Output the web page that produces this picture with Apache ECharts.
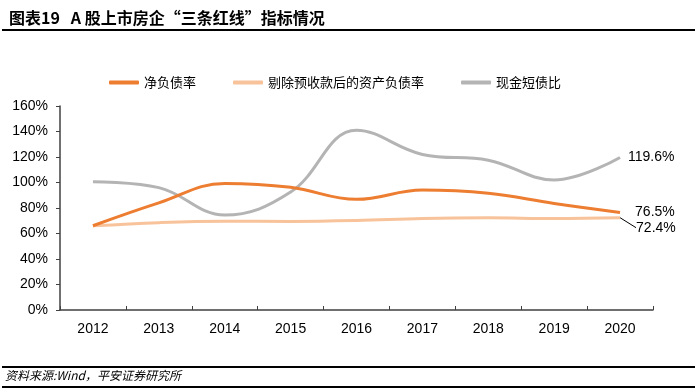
<!DOCTYPE html>
<html>
<head>
<meta charset="utf-8">
<script src="https://cdn.jsdelivr.net/npm/echarts@6/dist/echarts.min.js"></script>
<style>
html,body{margin:0;padding:0;background:#fff;}
#main{width:697px;height:391px;}
</style>
</head>
<body>
<div id="main"></div>
<script>
const categories = ['2012','2013','2014','2015','2016','2017','2018','2019','2020'];
const netDebtRatio = [66.1, 84.0, 99.3, 96.2, 86.8, 94.1, 91.5, 83.5, 76.5];
const adjAssetLiabRatio = [66.0, 68.5, 69.6, 69.5, 70.2, 71.8, 72.3, 71.8, 72.4];
const cashShortDebtRatio = [100.6, 96.0, 74.5, 92.5, 141.0, 122.0, 117.5, 102.0, 119.6];
const yTicks = [0, 20, 40, 60, 80, 100, 120, 140, 160];

const FONT = '"Liberation Sans", Arial, "Noto Sans CJK SC", sans-serif';
const CJK = '"Noto Sans CJK SC", "Liberation Sans", sans-serif';

function lastLabeled(arr, labelOpt, extra) {
  return arr.map((v, i) => i === arr.length - 1
    ? Object.assign({ value: v, label: Object.assign({ show: true }, labelOpt) }, extra || {})
    : v);
}

const chart = echarts.init(document.getElementById('main'));
chart.setOption({
  animation: false,
  backgroundColor: '#fff',
  title: {
    text: '图表19   A 股上市房企“三条红线”指标情况',
    left: 4, top: 5,
    textStyle: { fontFamily: CJK, fontWeight: 'bold', fontSize: 16, color: '#000' }
  },
  graphic: [
    { type: 'rect', shape: { x: 2, y: 29, width: 693, height: 2 }, style: { fill: '#000' } },
    { type: 'rect', shape: { x: 2, y: 366, width: 693, height: 2 }, style: { fill: '#000' } },
    { type: 'rect', shape: { x: 2, y: 386, width: 693, height: 2 }, style: { fill: '#000' } },
    { type: 'text', left: 5, top: 369,
      style: { text: '资料来源:Wind，平安证券研究所', font: 'italic 12px ' + CJK, fill: '#000' } }
  ],
  legend: {
    left: 109, top: 76, padding: 0,
    itemWidth: 30, itemHeight: 4, itemGap: 37,
    icon: 'roundRect',
    textStyle: { fontFamily: CJK, fontSize: 13, color: '#000' },
    data: ['净负债率', '剔除预收款后的资产负债率', '现金短债比']
  },
  grid: { left: 60, right: 44, top: 106, bottom: 81 },
  xAxis: {
    type: 'category',
    data: categories,
    boundaryGap: true,
    axisLine: { lineStyle: { color: '#404040', width: 1.5 } },
    axisTick: { show: true, inside: true, length: 4, lineStyle: { color: '#404040' } },
    axisLabel: { fontFamily: FONT, fontSize: 14, color: '#000', margin: 12 }
  },
  yAxis: {
    type: 'value',
    min: 0, max: 160, interval: 20,
    axisLine: { show: true, lineStyle: { color: '#404040', width: 1.5 } },
    axisTick: { show: true, inside: false, length: 4, lineStyle: { color: '#404040' } },
    splitLine: { show: false },
    axisLabel: {
      fontFamily: FONT, fontSize: 14, color: '#000', margin: 12,
      formatter: v => yTicks.includes(v) ? v + '%' : ''
    }
  },
  series: [
    {
      name: '净负债率', type: 'line', smooth: 0.4, showSymbol: true, symbol: 'circle', symbolSize: 0,
      lineStyle: { width: 3, color: '#ED7D31' }, itemStyle: { color: '#ED7D31' },
      data: lastLabeled(netDebtRatio, {
        position: 'right', distance: 15, formatter: '{c}%',
        fontFamily: FONT, fontSize: 14, color: '#000'
      }),
      z: 3
    },
    {
      name: '剔除预收款后的资产负债率', type: 'line', smooth: 0.4, showSymbol: true, symbol: 'circle', symbolSize: 0,
      lineStyle: { width: 3, color: '#F8C39B' }, itemStyle: { color: '#F8C39B' },
      data: lastLabeled(adjAssetLiabRatio, {
        position: 'right', distance: 16, formatter: '{c}%',
        fontFamily: FONT, fontSize: 14, color: '#000'
      }, { labelLine: { show: true, lineStyle: { color: '#000', width: 1 } } }),
      labelLayout: { dy: 10 },
      labelLine: { show: true, lineStyle: { color: '#000', width: 1 } },
      z: 2
    },
    {
      name: '现金短债比', type: 'line', smooth: 0.4, showSymbol: true, symbol: 'circle', symbolSize: 0,
      lineStyle: { width: 3, color: '#B4B4B4' }, itemStyle: { color: '#B4B4B4' },
      data: lastLabeled(cashShortDebtRatio, {
        position: 'right', distance: 8, formatter: '{c}%',
        fontFamily: FONT, fontSize: 14, color: '#000'
      }),
      z: 1
    }
  ]
});
</script>
</body>
</html>
